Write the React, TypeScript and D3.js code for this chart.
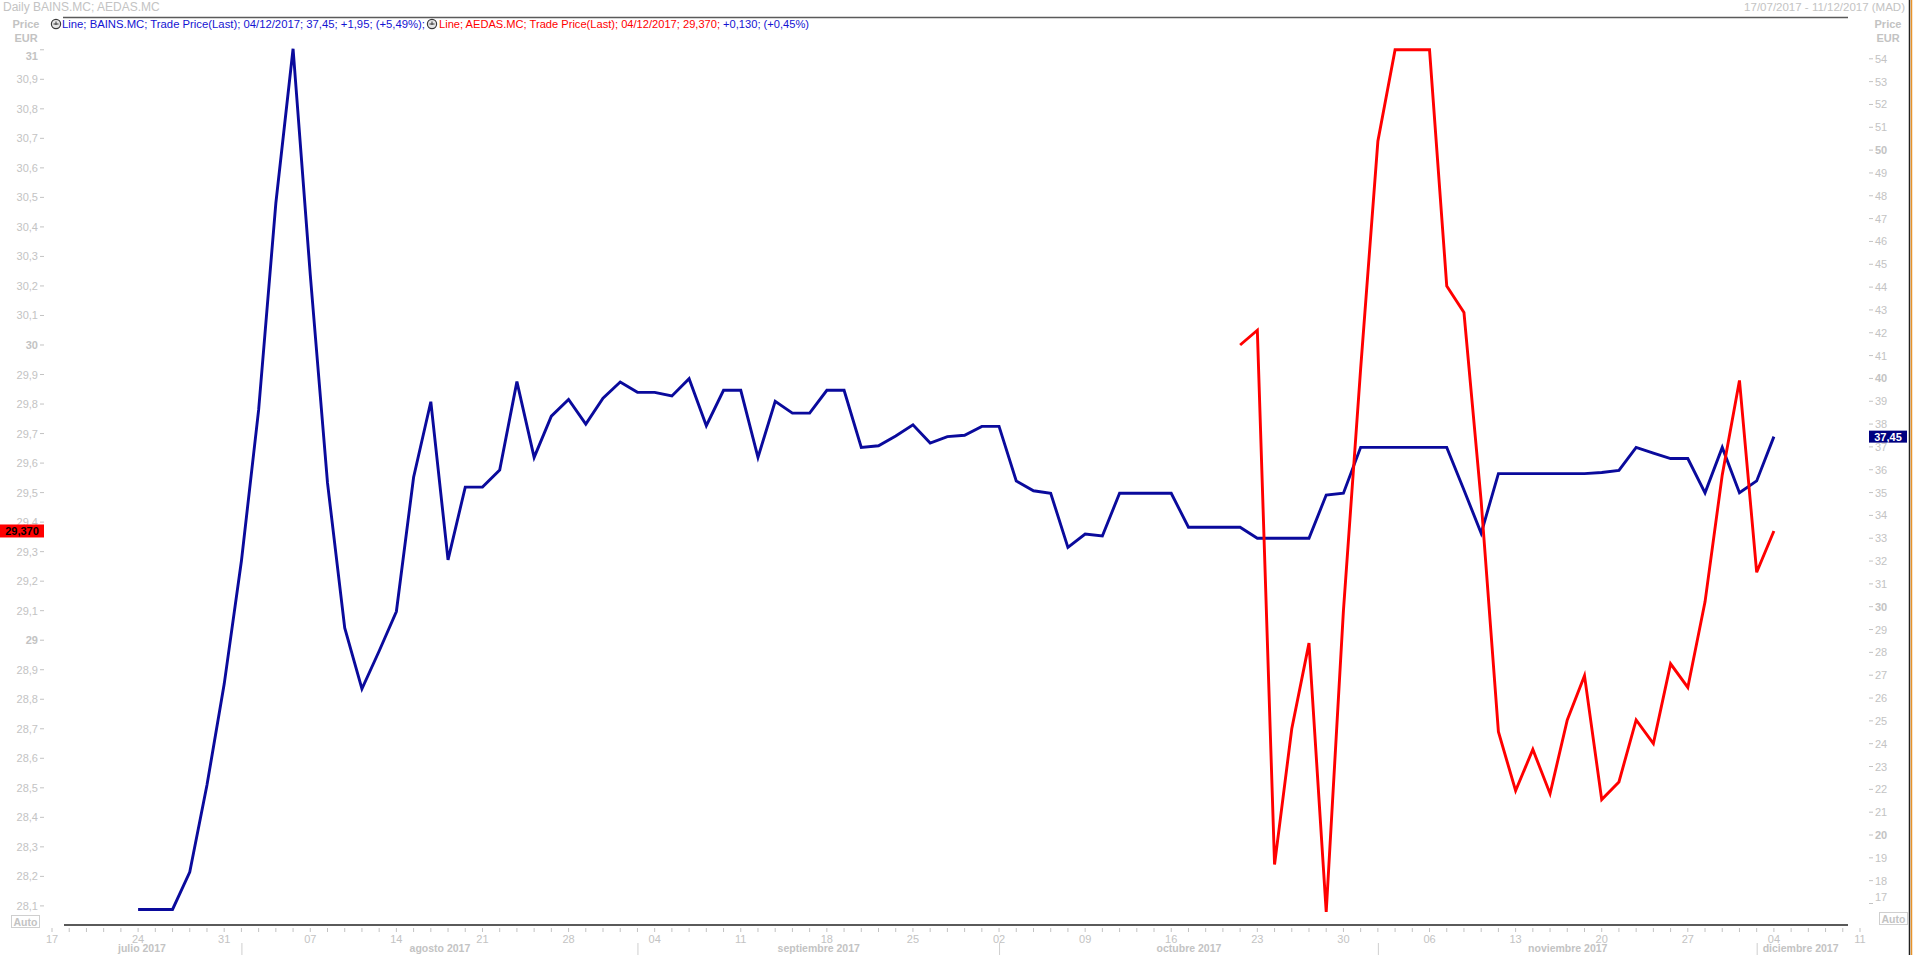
import React from 'react';
import * as d3 from 'd3';

const W = 1914;
const H = 955;

// trading days shown on the axis
const firstDay = new Date(2017, 6, 17);
const lastDay = new Date(2017, 11, 11);

// BAINS.MC (blue, right axis) from 24/07/2017
const bainsStart = '2017-07-24';
const bainsValues = [
  16.74, 16.74, 16.74, 18.38, 22.19, 26.61, 32.0, 38.62, 47.68, 54.44,
  44.53, 35.42, 29.07, 26.4, 28.06, 29.79, 35.67, 38.98, 32.05, 35.24,
  35.24, 35.99, 39.86, 36.54, 38.35, 39.08, 38.0, 39.13, 39.84, 39.39,
  39.39, 39.23, 39.99, 37.93, 39.48, 39.48, 36.54, 39.0, 38.48, 38.48,
  39.48, 39.48, 36.98, 37.05, 37.48, 37.97, 37.17, 37.45, 37.51, 37.9,
  37.9, 35.51, 35.08, 34.97, 32.6, 33.18, 33.1, 34.97, 34.97, 34.97,
  34.97, 33.48, 33.48, 33.48, 33.48, 33.0, 33.0, 33.0, 33.0, 34.89,
  34.97, 36.98, 36.98, 36.98, 36.98, 36.98, 36.98, 35.11, 33.22, 35.83,
  35.83, 35.83, 35.83, 35.83, 35.83, 35.88, 35.97, 36.98, 36.73, 36.49,
  36.49, 34.99, 36.98, 34.99, 35.51, 37.45,
];

// AEDAS.MC (red, left axis) from 20/10/2017
const aedasStart = '2017-10-20';
const aedasValues = [
  30.0, 30.05, 28.24, 28.7, 28.99, 28.08, 29.1, 29.92, 30.69, 31.0,
  31.0, 31.0, 30.2, 30.11, 29.47, 28.69, 28.49, 28.63, 28.48, 28.73,
  28.88, 28.46, 28.52, 28.73, 28.65, 28.92, 28.84, 29.13, 29.56, 29.88,
  29.23, 29.37,
];

const leftTicks = [
  31, 30.9, 30.8, 30.7, 30.6, 30.5, 30.4, 30.3, 30.2, 30.1, 30, 29.9, 29.8, 29.7, 29.6,
  29.5, 29.4, 29.3, 29.2, 29.1, 29, 28.9, 28.8, 28.7, 28.6, 28.5, 28.4, 28.3, 28.2, 28.1,
];
const rightTicks = [
  54, 53, 52, 51, 50, 49, 48, 47, 46, 45, 44, 43, 42, 41, 40, 39, 38, 37, 36, 35,
  34, 33, 32, 31, 30, 29, 28, 27, 26, 25, 24, 23, 22, 21, 20, 19, 18, 17,
];
const dayLabels = [
  '17', '24', '31', '07', '14', '21', '28', '04', '11', '18', '25',
  '02', '09', '16', '23', '30', '06', '13', '20', '27', '04', '11',
];
const monthStarts = ['2017-08-01', '2017-09-01', '2017-10-02', '2017-11-01', '2017-12-01'];
const monthLabels = ['julio 2017', 'agosto 2017', 'septiembre 2017', 'octubre 2017', 'noviembre 2017', 'diciembre 2017'];

const titleText = 'Daily BAINS.MC; AEDAS.MC';
const rangeText = '17/07/2017 - 11/12/2017 (MAD)';
const legendBains = 'Line; BAINS.MC; Trade Price(Last); 04/12/2017; 37,45; +1,95; (+5,49%);';
const legendAedasA = 'Line; AEDAS.MC; Trade Price(Last); 04/12/2017; 29,370; ';
const legendAedasB = '+0,130; (+0,45%)';
const lastBains = '37,45';
const lastAedas = '29,370';

const FONT = "'Liberation Sans', Arial, sans-serif";
const GRAY = '#c3c3c3';
const BLUE_LINE = '#0a0a9c';
const RED_LINE = '#ff0000';
const BLUE_TEXT = '#1414d2';

const fmtComma = (v: number) => (Number.isInteger(v) ? String(v) : v.toFixed(1).replace('.', ','));

function Icon({ cx, cy }: { cx: number; cy: number }) {
  return (
    <g>
      <circle cx={cx} cy={cy} r={4.6} fill="#e6e6e6" stroke="#3a3a3a" strokeWidth={1.2} />
      <path d={`M${cx - 2.5},${cy} L${cx + 2.5},${cy} M${cx},${cy - 2.5} L${cx},${cy + 1}`} stroke="#3a3a3a" strokeWidth={1} />
    </g>
  );
}

export default function App() {
  const tradingDays = d3.timeDay
    .range(firstDay, d3.timeDay.offset(lastDay, 1))
    .filter((d) => d.getDay() !== 0 && d.getDay() !== 6);
  const key = d3.timeFormat('%Y-%m-%d');
  const idx = (s: string) => tradingDays.findIndex((d) => key(d) === s);

  const x = d3.scaleLinear().domain([0, tradingDays.length - 1]).range([52, 1860]);
  const yL = d3.scaleLinear().domain([28.1, 30.9]).range([905.9, 79.3]);
  const yR = d3.scaleLinear().domain([17, 54]).range([903.5, 58.8]);

  const bStart = idx(bainsStart);
  const aStart = idx(aedasStart);

  const blueLine = d3
    .line<number>()
    .x((_, i) => x(bStart + i))
    .y((v) => yR(v))(bainsValues) as string;
  const redLine = d3
    .line<number>()
    .x((_, i) => x(aStart + i))
    .y((v) => yL(v))(aedasValues) as string;

  const mondays = tradingDays.map((d, i) => ({ d, i })).filter((o) => o.d.getDay() === 1);
  const bounds = monthStarts.map((s) => x(idx(s)) + 0.5);
  const edges = [x(0), ...bounds, x(tradingDays.length - 1)];
  const monthCenters = monthLabels.map((_, k) => (edges[k] + edges[k + 1]) / 2 - (k === monthLabels.length - 1 ? 8 : k === 0 ? 5 : 0));

  const axisY = 925;
  const yBlueLast = yR(bainsValues[bainsValues.length - 1]);
  const yRedLast = yL(aedasValues[aedasValues.length - 1]);

  return (
    <svg
      width={W}
      height={H}
      style={{ position: 'absolute', left: 0, top: 0, background: '#fff' }}
      fontFamily={FONT}
    >
      <rect x={0} y={0} width={W} height={H} fill="#fff" />

      {/* header */}
      <text x={3} y={11} fontSize={12} fill={GRAY}>{titleText}</text>
      <text x={1905} y={11} fontSize={11.5} fill={GRAY} textAnchor="end">{rangeText}</text>
      <line x1={63} x2={1848} y1={17.5} y2={17.5} stroke="#5a5a5a" strokeWidth={1.3} />

      {/* axis titles */}
      <text x={26} y={28} fontSize={11} fontWeight="bold" fill={GRAY} textAnchor="middle">Price</text>
      <text x={26} y={42} fontSize={11} fontWeight="bold" fill={GRAY} textAnchor="middle">EUR</text>
      <text x={1888} y={28} fontSize={11} fontWeight="bold" fill={GRAY} textAnchor="middle">Price</text>
      <text x={1888} y={42} fontSize={11} fontWeight="bold" fill={GRAY} textAnchor="middle">EUR</text>

      {/* legend */}
      <Icon cx={56} cy={24} />
      <text x={62} y={28} fontSize={11} fill={BLUE_TEXT} textLength={363} lengthAdjust="spacingAndGlyphs">
        {legendBains}
      </text>
      <Icon cx={432} cy={24} />
      <text x={439} y={28} fontSize={11} textLength={370} lengthAdjust="spacingAndGlyphs">
        <tspan fill={RED_LINE}>{legendAedasA}</tspan>
        <tspan fill={BLUE_TEXT}>{legendAedasB}</tspan>
      </text>

      {/* left axis */}
      {leftTicks.map((v) => {
        const ty = yL(v);
        const top = ty < 56;
        const ly = top ? ty + 6 : ty;
        return (
          <g key={'l' + v}>
            <line x1={40} x2={44} y1={ty} y2={ty} stroke={GRAY} strokeWidth={1} />
            <text
              x={38}
              y={ly}
              fontSize={11}
              fill={GRAY}
              fontWeight={Number.isInteger(v) ? 'bold' : 'normal'}
              textAnchor="end"
              dominantBaseline="central"
            >
              {fmtComma(v)}
            </text>
          </g>
        );
      })}

      {/* right axis */}
      {rightTicks.map((v) => {
        const ty = yR(v);
        const bottom = ty > 898;
        const ly = bottom ? ty - 7 : ty;
        return (
          <g key={'r' + v}>
            <line x1={1869} x2={1873} y1={ty} y2={ty} stroke={GRAY} strokeWidth={1} />
            <text
              x={1875}
              y={ly}
              fontSize={11}
              fill={GRAY}
              fontWeight={v % 10 === 0 ? 'bold' : 'normal'}
              dominantBaseline="central"
            >
              {v}
            </text>
          </g>
        );
      })}

      {/* Auto boxes */}
      <rect x={11.5} y={915.5} width={28} height={12} fill="#fff" stroke="#cfcfcf" strokeWidth={1} />
      <text x={25.5} y={921.5} fontSize={10.5} fontWeight="bold" fill={GRAY} textAnchor="middle" dominantBaseline="central">Auto</text>
      <rect x={1879.5} y={912.5} width={28} height={12} fill="#fff" stroke="#cfcfcf" strokeWidth={1} />
      <text x={1893.5} y={918.5} fontSize={10.5} fontWeight="bold" fill={GRAY} textAnchor="middle" dominantBaseline="central">Auto</text>

      {/* x axis */}
      <line x1={x(0) + 12} x2={x(tradingDays.length - 1) - 12} y1={axisY} y2={axisY} stroke="#5a5a5a" strokeWidth={2} />
      {tradingDays.map((d, i) => (
        <line key={'t' + i} x1={x(i)} x2={x(i)} y1={axisY + 3} y2={axisY + 7} stroke={GRAY} strokeWidth={1} />
      ))}
      {mondays.map((o, k) => (
        <text key={'d' + k} x={x(o.i)} y={axisY + 14} fontSize={11} fill={GRAY} textAnchor="middle" dominantBaseline="central">
          {dayLabels[k]}
        </text>
      ))}
      {bounds.map((bx, k) => (
        <line key={'s' + k} x1={bx} x2={bx} y1={943} y2={955} stroke="#cfcfcf" strokeWidth={1} />
      ))}
      {monthLabels.map((m, k) => (
        <text key={'m' + k} x={monthCenters[k]} y={952} fontSize={10.5} fontWeight="bold" fill={GRAY} textAnchor="middle">
          {m}
        </text>
      ))}

      {/* series */}
      <path d={blueLine} fill="none" stroke={BLUE_LINE} strokeWidth={2.9} strokeLinejoin="miter" />
      <path d={redLine} fill="none" stroke={RED_LINE} strokeWidth={2.9} strokeLinejoin="miter" />

      {/* last value labels */}
      <rect x={0} y={yRedLast - 6.5} width={44} height={13} fill="#ff0000" />
      <text x={22} y={yRedLast} fontSize={11} fontWeight="bold" fill="#000" textAnchor="middle" dominantBaseline="central">
        {lastAedas}
      </text>
      <rect x={1869} y={yBlueLast - 6} width={38} height={12} fill="#000080" />
      <text x={1888} y={yBlueLast} fontSize={11} fontWeight="bold" fill="#fff" textAnchor="middle" dominantBaseline="central">
        {lastBains}
      </text>

      {/* window border */}
      <line x1={1909.5} x2={1909.5} y1={0} y2={H} stroke="#222" strokeWidth={1.5} />
      <line x1={1911.5} x2={1911.5} y1={0} y2={H} stroke="#e8922a" strokeWidth={1.5} />
    </svg>
  );
}
